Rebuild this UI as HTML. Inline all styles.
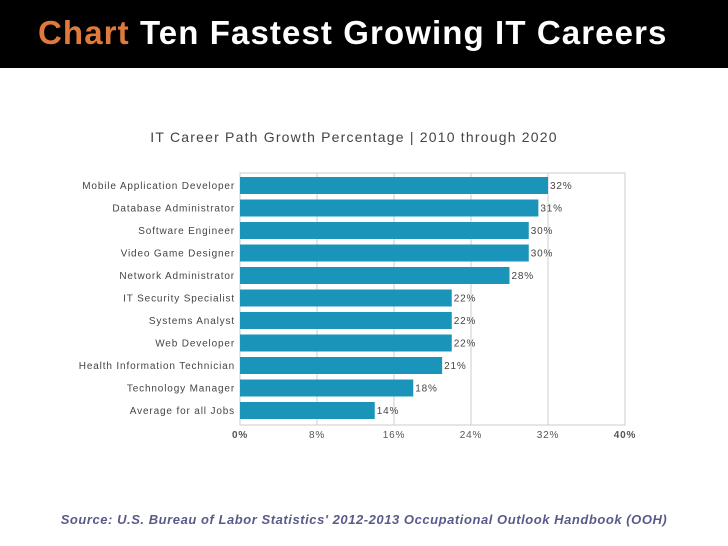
<!DOCTYPE html>
<html><head><meta charset="utf-8"><style>
body{margin:0;width:728px;height:546px;background:#fff;overflow:hidden;font-family:"Liberation Sans",sans-serif}
#hdr{position:absolute;left:0;top:0;width:728px;height:68px;background:#000}
#ttl{position:absolute;left:38px;top:14px;font-size:33px;letter-spacing:1.1px;font-weight:bold;color:#fff;white-space:nowrap}
#ttl span{color:#e07a3a}
#src{position:absolute;left:0;width:728px;top:512px;text-align:center;font-size:13px;letter-spacing:0.55px;font-style:italic;font-weight:bold;color:#5a5a8a}
</style></head><body>
<div id="hdr"></div>
<div id="ttl"><span>Chart</span> Ten Fastest Growing IT Careers</div>
<svg id="chart" width="728" height="546" style="position:absolute;left:0;top:0">
<text x="354" y="142" text-anchor="middle" font-size="14" letter-spacing="1.2" fill="#444">IT Career Path Growth Percentage | 2010 through 2020</text>
<g id="g"></g>
</svg>
<div id="src">Source: U.S. Bureau of Labor Statistics' 2012-2013 Occupational Outlook Handbook (OOH)</div>
<script>
const categories=["Mobile Application Developer","Database Administrator","Software Engineer","Video Game Designer","Network Administrator","IT Security Specialist","Systems Analyst","Web Developer","Health Information Technician","Technology Manager","Average for all Jobs"];
const values=[32,31,30,30,28,22,22,22,21,18,14];
const ticks=[0,8,16,24,32,40];
const X0=240,X1=625,Y0=173,Y1=425,MAX=40;
const x=v=>X0+(v/MAX)*(X1-X0);
const y=i=>177+i*22.5;
const g=document.getElementById('g');
const NS='http://www.w3.org/2000/svg';
function mk(t,a){const e=document.createElementNS(NS,t);for(const k in a)e.setAttribute(k,a[k]);g.appendChild(e);return e;}
let r=mk('rect',{x:X0,y:Y0,width:X1-X0,height:Y1-Y0,fill:'none',stroke:'#ccc'});


ticks.forEach(t=>{
 let l=mk('line',{x1:x(t),x2:x(t),y1:Y0,y2:Y1,stroke:'#ccc'});
 
 
 let tx=mk('text',{x:x(t),y:438,'text-anchor':'middle','font-size':10,'letter-spacing':'0.8',fill:'#555','font-weight':(t==0||t==MAX)?'bold':'normal'});
 tx.textContent=t+'%';
 
 
});
categories.forEach((c,i)=>{
 let b=mk('rect',{x:X0,y:y(i),width:x(values[i])-X0,height:17,fill:'#1a94b9'});
 
 
 let lb=mk('text',{x:235,y:y(i)+12,'text-anchor':'end','font-size':10,fill:'#444','letter-spacing':'0.85'});
 lb.textContent=c;
 
 
 let v=mk('text',{x:x(values[i])+2,y:y(i)+12,'font-size':10,fill:'#444','letter-spacing':'0.8'});
 v.textContent=values[i]+'%';
 
 
});
</script>
</body></html>
